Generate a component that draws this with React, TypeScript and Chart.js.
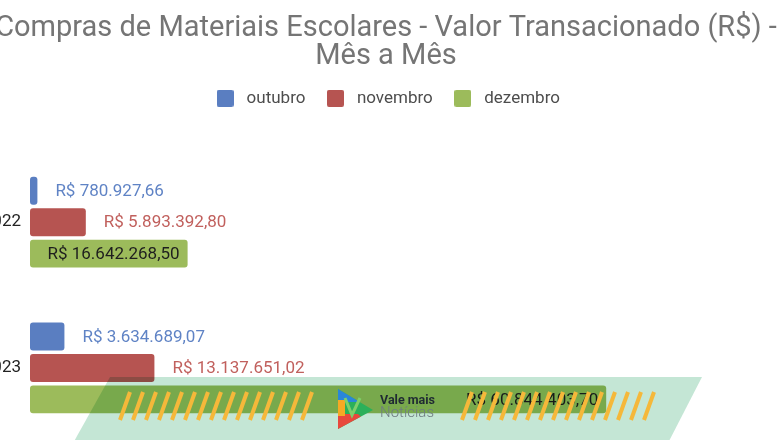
import React, { useEffect, useRef } from 'react';
import { Chart, registerables } from 'chart.js';

Chart.register(...registerables);

const categories = ['2022', '2023'];
const seriesNames = ['outubro', 'novembro', 'dezembro'];
const outubro = [780927.66, 3634689.07];
const novembro = [5893392.8, 13137651.02];
const dezembro = [16642268.5, 60844403.7];
const titleLines = ['Compras de Materiais Escolares - Valor Transacionado (R$) -', 'Mês a Mês'];
const barColors = ['#5a7ec1', '#b65451', '#9cbb5b'];
const labelColors = ['#5f83c5', '#c1605d', '#1e1e1e'];

const OFFSET_X = 44; // canvas is shifted left by this many px (chart is cropped in the reference)

function brl(v: number): string {
  const fixed = v.toFixed(2);
  const [intPart, dec] = fixed.split('.');
  const withDots = intPart.replace(/\B(?=(\d{3})+(?!\d))/g, '.');
  return 'R$ ' + withDots + ',' + dec;
}

function makeBox(color: string): HTMLCanvasElement {
  const c = document.createElement('canvas');
  c.width = 17;
  c.height = 17;
  const g = c.getContext('2d')!;
  g.fillStyle = color;
  g.beginPath();
  (g as any).roundRect ? (g as any).roundRect(0, 0, 17, 17, 2) : g.rect(0, 0, 17, 17);
  g.fill();
  return c;
}

const valueLabels = {
  id: 'valueLabels',
  afterDatasetsDraw(chart: any) {
    const ctx = chart.ctx;
    ctx.save();
    ctx.font = '17px Roboto';
    ctx.textBaseline = 'middle';
    chart.data.datasets.forEach((ds: any, di: number) => {
      const meta = chart.getDatasetMeta(di);
      meta.data.forEach((bar: any, i: number) => {
        const text = brl(ds.data[i]);
        if (di === 2) {
          ctx.textAlign = 'right';
          ctx.fillStyle = labelColors[2];
          ctx.fillText(text, bar.x - 8, bar.y + 1);
        } else {
          ctx.textAlign = 'left';
          ctx.fillStyle = labelColors[di];
          ctx.fillText(text, bar.x + 18, bar.y + 1);
        }
      });
    });
    ctx.restore();
  },
};

const watermark = {
  id: 'watermark',
  afterDraw(chart: any) {
    const ctx = chart.ctx;
    const X = (x: number) => x + OFFSET_X;
    ctx.save();
    // translucent band (multiply blend)
    ctx.globalCompositeOperation = 'multiply';
    ctx.fillStyle = '#c4e6d5';
    ctx.beginPath();
    ctx.moveTo(X(110), 377);
    ctx.lineTo(X(702), 377);
    ctx.lineTo(X(667), 445);
    ctx.lineTo(X(72), 445);
    ctx.closePath();
    ctx.fill();
    ctx.globalCompositeOperation = 'source-over';
    // yellow stripes
    ctx.strokeStyle = '#f5b83a';
    ctx.lineWidth = 4;
    const stripes = (start: number, count: number) => {
      for (let k = 0; k < count; k++) {
        const x0 = start + k * 13;
        ctx.beginPath();
        ctx.moveTo(X(x0), 420);
        ctx.lineTo(X(x0 + 10), 392);
        ctx.stroke();
      }
    };
    stripes(120, 15);
    stripes(462, 15);
    // logo
    ctx.save();
    ctx.beginPath();
    ctx.moveTo(X(338), 389);
    ctx.lineTo(X(373), 410);
    ctx.lineTo(X(338), 429);
    ctx.closePath();
    ctx.clip();
    ctx.fillStyle = '#2bb05a';
    ctx.fillRect(X(336), 386, 40, 45);
    ctx.fillStyle = '#2a86d9';
    ctx.beginPath();
    ctx.moveTo(X(336), 386);
    ctx.lineTo(X(376), 386);
    ctx.lineTo(X(360), 402);
    ctx.lineTo(X(336), 402);
    ctx.closePath();
    ctx.fill();
    ctx.fillStyle = '#e8483c';
    ctx.beginPath();
    ctx.moveTo(X(336), 414);
    ctx.lineTo(X(358), 414);
    ctx.lineTo(X(376), 431);
    ctx.lineTo(X(336), 431);
    ctx.closePath();
    ctx.fill();
    ctx.fillStyle = '#f6a924';
    ctx.fillRect(X(336), 400, 9, 16);
    ctx.restore();
    ctx.strokeStyle = '#7fcf6a';
    ctx.lineWidth = 3;
    ctx.beginPath();
    ctx.moveTo(X(345), 398);
    ctx.lineTo(X(352), 415);
    ctx.lineTo(X(360), 398);
    ctx.stroke();
    // text
    ctx.textAlign = 'left';
    ctx.textBaseline = 'alphabetic';
    ctx.fillStyle = '#1f2a33';
    ctx.font = 'bold 12.5px Roboto';
    ctx.fillText('Vale mais', X(380), 404);
    ctx.fillStyle = '#6f7c82';
    ctx.font = '300 15px Roboto';
    ctx.fillText('Notícias', X(380), 417);
    ctx.restore();
  },
};

export default function App() {
  const ref = useRef<HTMLCanvasElement>(null);

  useEffect(() => {
    if (!ref.current) return;
    const boxes = barColors.map(makeBox);
    const chart = new Chart(ref.current, {
      type: 'bar',
      data: {
        labels: categories,
        datasets: [
          { label: seriesNames[0], data: outubro, backgroundColor: barColors[0] },
          { label: seriesNames[1], data: novembro, backgroundColor: barColors[1] },
          { label: seriesNames[2], data: dezembro, backgroundColor: barColors[2] },
        ].map((d) => ({
          ...d,
          borderRadius: 3,
          borderSkipped: false,
          barPercentage: 0.89,
          categoryPercentage: 0.647,
        })),
      },
      options: {
        indexAxis: 'y',
        responsive: false,
        animation: false,
        devicePixelRatio: 1,
        layout: { padding: { left: 0, right: 0, top: 0, bottom: 0 } },
        plugins: {
          title: {
            display: true,
            text: titleLines,
            color: '#757575',
            font: { family: 'Roboto', size: 29, weight: 'normal', lineHeight: 0.98 },
            padding: { top: 14.1, bottom: 1.9 },
          },
          legend: {
            display: true,
            position: 'top',
            labels: {
              usePointStyle: true,
              pointStyleWidth: 26,
              boxHeight: 17,
              padding: 17,
              color: '#4d4d4d',
              font: { family: 'Roboto', size: 17 },
              generateLabels: (ch: any) =>
                ch.data.datasets.map((ds: any, i: number) => ({
                  text: ds.label,
                  fillStyle: barColors[i],
                  strokeStyle: barColors[i],
                  lineWidth: 0,
                  pointStyle: boxes[i],
                  hidden: false,
                  datasetIndex: i,
                  fontColor: '#4d4d4d',
                })),
            },
          },
          tooltip: { enabled: false },
        },
        scales: {
          x: {
            type: 'linear',
            position: 'top',
            min: 0,
            max: 83000000,
            grid: { display: false, drawTicks: false },
            border: { display: false },
            ticks: { display: false },
            afterFit: (s: any) => {
              s.height = 32.5;
            },
          },
          y: {
            type: 'category',
            grid: { display: false, drawTicks: false },
            border: { display: false },
            ticks: { color: '#222222', font: { family: 'Roboto', size: 17 }, padding: 9 },
            afterFit: (s: any) => {
              s.width = 74;
            },
          },
        },
      } as any,
      plugins: [valueLabels, watermark],
    });
    return () => chart.destroy();
  }, []);

  return (
    <div
      style={{
        position: 'fixed',
        left: 0,
        top: 0,
        width: 780,
        height: 440,
        overflow: 'hidden',
        background: '#ffffff',
      }}
    >
      <canvas
        ref={ref}
        width={860}
        height={460}
        style={{ position: 'absolute', left: -OFFSET_X, top: 0, width: 860, height: 460 }}
      />
    </div>
  );
}
